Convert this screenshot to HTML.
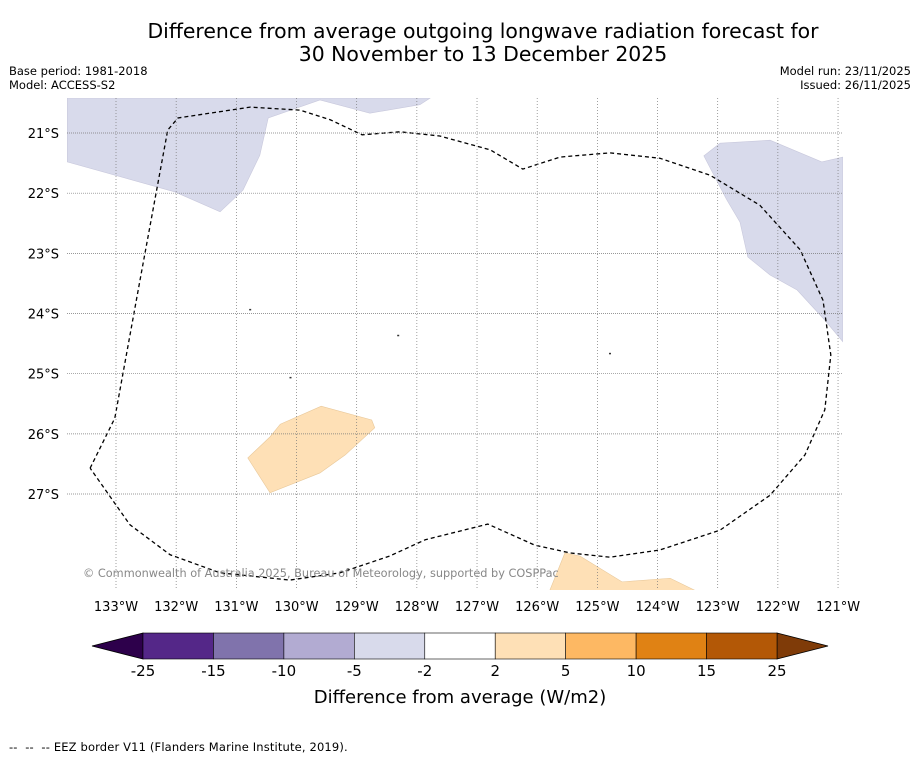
<!DOCTYPE html>
<html><head><meta charset="utf-8"><style>
body{margin:0;background:#fff;font-family:"DejaVu Sans","Liberation Sans",sans-serif;}
svg text{font-family:"DejaVu Sans","Liberation Sans",sans-serif;}
</style></head><body>
<svg id="c" width="919" height="758" xmlns="http://www.w3.org/2000/svg">
<text x="483" y="38" font-size="20.4" text-anchor="middle">Difference from average outgoing longwave radiation forecast for</text>
<text x="483" y="61" font-size="20.4" text-anchor="middle">30 November to 13 December 2025</text>
<text x="9" y="75" font-size="11.5">Base period: 1981-2018</text>
<text x="9" y="89" font-size="11.5">Model: ACCESS-S2</text>
<text x="911" y="75" font-size="11.5" text-anchor="end">Model run: 23/11/2025</text>
<text x="911" y="89" font-size="11.5" text-anchor="end">Issued: 26/11/2025</text>
<g id="map"></g>
<g id="cb"></g>
<text x="9" y="751" font-size="11.5" letter-spacing="0.15" xml:space="preserve">--  --  -- EEZ border V11 (Flanders Marine Institute, 2019).</text>
</svg>
<script>
const lonTicks=[-133,-132,-131,-130,-129,-128,-127,-126,-125,-124,-123,-122,-121];
const latTicks=[-21,-22,-23,-24,-25,-26,-27];
const cbBounds=[-25,-15,-10,-5,-2,2,5,10,15,25];
const cbColors=["#542788","#8073ac","#b2abd2","#d8daeb","#ffffff","#fee0b6","#fdb863","#e08214","#b35806"];
const cbExtColors=["#2d004b","#7f3b08"];
const negA=[[-133.81,-20.42],[-133.81,-21.48],[-132.02,-21.98],[-131.27,-22.31],[-130.89,-21.95],[-130.61,-21.37],[-130.47,-20.75],[-129.61,-20.45],[-128.78,-20.67],[-127.95,-20.53],[-127.78,-20.42]];
const negB=[[-123.23,-21.38],[-122.96,-21.17],[-122.13,-21.12],[-121.27,-21.48],[-120.92,-21.40],[-120.92,-24.47],[-121.22,-24.11],[-121.68,-23.61],[-122.13,-23.36],[-122.50,-23.06],[-122.63,-22.48],[-122.85,-22.11]];
const posA=[[-130.81,-26.40],[-130.44,-26.05],[-130.27,-25.84],[-129.59,-25.54],[-128.75,-25.77],[-128.70,-25.90],[-129.19,-26.35],[-129.61,-26.65],[-130.44,-26.98]];
const posB=[[-125.79,-28.60],[-125.54,-27.98],[-125.29,-28.03],[-124.59,-28.46],[-123.79,-28.40],[-123.38,-28.60]];
const eez=[[-133.43,-26.57],[-133.02,-25.74],[-132.60,-23.44],[-132.14,-20.95],[-131.97,-20.75],[-130.77,-20.57],[-129.94,-20.62],[-129.44,-20.78],[-128.91,-21.03],[-128.28,-20.98],[-127.62,-21.05],[-126.78,-21.28],[-126.24,-21.60],[-125.62,-21.40],[-124.79,-21.33],[-123.96,-21.42],[-123.13,-21.70],[-122.30,-22.20],[-121.63,-22.94],[-121.25,-23.78],[-121.12,-24.69],[-121.22,-25.60],[-121.55,-26.35],[-122.13,-27.02],[-122.96,-27.60],[-123.96,-27.93],[-124.79,-28.05],[-125.45,-27.98],[-126.04,-27.85],[-126.82,-27.50],[-127.86,-27.76],[-128.45,-28.03],[-129.28,-28.31],[-130.11,-28.43],[-131.27,-28.31],[-132.10,-28.01],[-132.77,-27.51],[-133.43,-26.57]];
const NS="http://www.w3.org/2000/svg";
const PX=60.17;
const X=lon=>116+(lon+133)*PX;
const Y=lat=>133+(-21-lat)*PX;
const L=67,R=843,T=98,B=590;
function mk(t,a,p){const e=document.createElementNS(NS,t);for(const k in a)e.setAttribute(k,a[k]);p.appendChild(e);return e;}
const map=document.getElementById('map');
const cp=mk('clipPath',{id:'clip'},map);mk('rect',{x:L,y:T,width:R-L,height:B-T},cp);
const g=mk('g',{'clip-path':'url(#clip)'},map);
function poly(pts,fill,stroke,name){const e=mk('polygon',{points:pts.map(p=>X(p[0])+','+Y(p[1])).join(' '),fill:fill,stroke:stroke,'stroke-width':0.6},g);

}
poly(negA,"#d8daeb","#c8c8dc","negative-anomaly-northwest");
poly(negB,"#d8daeb","#c8c8dc","negative-anomaly-northeast");
poly(posA,"#fee0b6","#e8c89a","positive-anomaly-west");
poly(posB,"#fee0b6","#e8c89a","positive-anomaly-south");
lonTicks.forEach(l=>{const x=X(l);const ln=mk('line',{x1:x,x2:x,y1:T,y2:B,stroke:'#777','stroke-width':0.7,'stroke-dasharray':'1,2'},map);


const t=mk('text',{x:x,y:611,'font-size':13,'text-anchor':'middle'},map);t.textContent=Math.abs(l)+'°W';

});
latTicks.forEach(l=>{const y=Y(l);const ln=mk('line',{x1:L,x2:R,y1:y,y2:y,stroke:'#777','stroke-width':0.7,'stroke-dasharray':'1,1'},map);


const t=mk('text',{x:59,y:y+5,'font-size':13,'text-anchor':'end'},map);t.textContent=Math.abs(l)+'°S';

});
const ez=mk('polyline',{points:eez.map(p=>X(p[0])+','+Y(p[1])).join(' '),fill:'none',stroke:'#000','stroke-width':1.3,'stroke-dasharray':'4,3'},g);


[[-130.77,-23.94],[-128.31,-24.37],[-124.79,-24.67],[-130.1,-25.07]].forEach(p=>{const d=mk('rect',{x:X(p[0])-1,y:Y(p[1])-1,width:2,height:1.5,fill:'#333'},g);

});
const cr=mk('text',{x:83,y:577,'font-size':11.3,fill:'#888'},map);cr.textContent='© Commonwealth of Australia 2025, Bureau of Meteorology, supported by COSPPac';


const cb=document.getElementById('cb');
const cx0=143,cx1=777,cy=633,ch=26,n=cbColors.length,w=(cx1-cx0)/n;
const lt=mk('polygon',{points:`${cx0},${cy} ${92},${cy+ch/2} ${cx0},${cy+ch}`,fill:cbExtColors[0],stroke:'#000','stroke-width':0.8},cb);


const rt=mk('polygon',{points:`${cx1},${cy} ${828},${cy+ch/2} ${cx1},${cy+ch}`,fill:cbExtColors[1],stroke:'#000','stroke-width':0.8},cb);


cbColors.forEach((c,i)=>{const r=mk('rect',{x:cx0+i*w,y:cy,width:w,height:ch,fill:c,stroke:'#000','stroke-width':0.6},cb);

});
cbBounds.forEach((b,i)=>{const t=mk('text',{x:cx0+i*w,y:676,'font-size':15,'text-anchor':'middle'},cb);t.textContent=b;

});
const ct=mk('text',{x:460,y:703,'font-size':18,'text-anchor':'middle'},cb);ct.textContent='Difference from average (W/m2)';


</script>
</body></html>
